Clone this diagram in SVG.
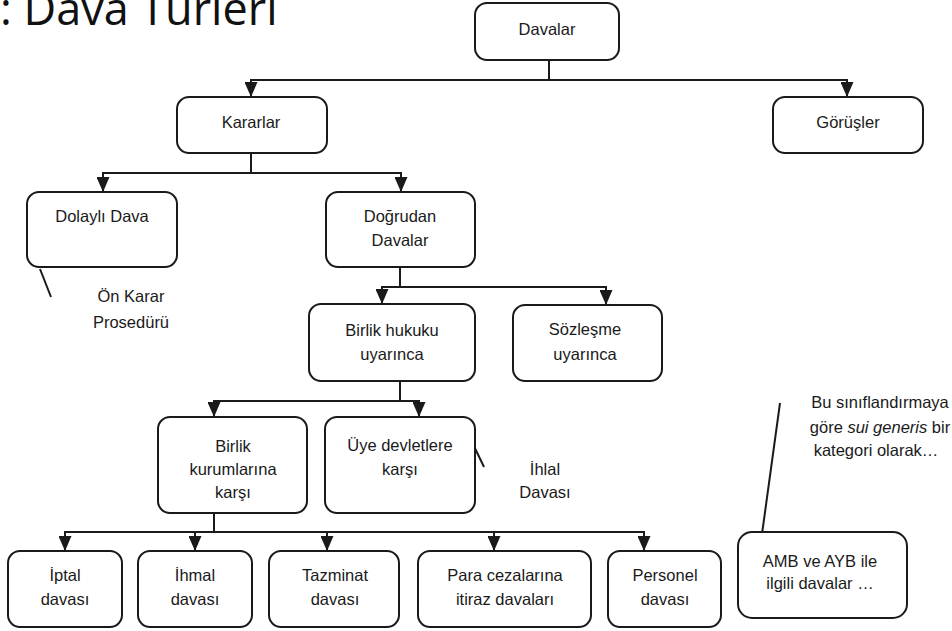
<svg xmlns="http://www.w3.org/2000/svg" width="952" height="631" viewBox="0 0 952 631">
<defs>
<style>
.box{fill:#fff;stroke:#1a1a1a;stroke-width:2}
.t{font-family:"Liberation Sans",Arial,sans-serif;font-size:16.5px;fill:#1a1a1a;text-anchor:middle}
.c{fill:none;stroke:#1a1a1a;stroke-width:2}
.title{font-family:"Open Sans","Noto Sans",sans-serif;font-size:45px;fill:#111}
</style>
<marker id="ah" viewBox="0 0 15 13" refX="15" refY="6.5" markerWidth="15" markerHeight="13" markerUnits="userSpaceOnUse" orient="auto">
<path d="M0,0 L15,6.5 L0,13 z" fill="#1a1a1a"/>
</marker>
</defs>
<rect width="952" height="631" fill="#fff"/>
<text class="title" x="0" y="25">: Dava Türleri</text>

<g id="connectors">
<path class="c" d="M549,60 V80 H251 V97" marker-end="url(#ah)"/>
<path class="c" d="M549,80 H847 V97" marker-end="url(#ah)"/>
<path class="c" d="M251,153 V173 H103 V192" marker-end="url(#ah)"/>
<path class="c" d="M251,173 H401 V192" marker-end="url(#ah)"/>
<path class="c" d="M400,267 V287 H382 V304" marker-end="url(#ah)"/>
<path class="c" d="M400,287 H606 V305" marker-end="url(#ah)"/>
<path class="c" d="M400,381 V401 H214 V417" marker-end="url(#ah)"/>
<path class="c" d="M400,401 H419 V417" marker-end="url(#ah)"/>
<path class="c" d="M214,513 V532 H65 V551" marker-end="url(#ah)"/>
<path class="c" d="M214,532 H195 V551" marker-end="url(#ah)"/>
<path class="c" d="M214,532 H327 V551" marker-end="url(#ah)"/>
<path class="c" d="M214,532 H494 V551" marker-end="url(#ah)"/>
<path class="c" d="M214,532 H644 V551" marker-end="url(#ah)"/>
<line class="c" x1="40" y1="269" x2="51" y2="297"/>
<line class="c" x1="472" y1="442" x2="484" y2="467"/>
<line class="c" x1="780" y1="403" x2="762" y2="534"/>
</g>

<g id="davalar"><rect class="box" x="475" y="3" width="144" height="57" rx="12"/><text class="t" x="547" y="35">Davalar</text></g>
<g id="kararlar"><rect class="box" x="177" y="97" width="150" height="56" rx="12"/><text class="t" x="251" y="128">Kararlar</text></g>
<g id="gorusler"><rect class="box" x="773" y="97" width="150" height="56" rx="12"/><text class="t" x="848" y="128">Görüşler</text></g>
<g id="dolayli"><rect class="box" x="27" y="192" width="150" height="75" rx="12"/><text class="t" x="102" y="222">Dolaylı Dava</text></g>
<g id="on-karar"><text class="t" x="131" y="302">Ön Karar</text><text class="t" x="131" y="328">Prosedürü</text></g>
<g id="dogrudan"><rect class="box" x="326" y="192" width="149" height="75" rx="12"/><text class="t" x="400" y="222">Doğrudan</text><text class="t" x="400" y="246">Davalar</text></g>
<g id="birlik-hukuku"><rect class="box" x="309" y="304" width="166" height="77" rx="12"/><text class="t" x="392" y="336">Birlik hukuku</text><text class="t" x="392" y="360">uyarınca</text></g>
<g id="sozlesme"><rect class="box" x="513" y="305" width="149" height="76" rx="12"/><text class="t" x="585" y="335">Sözleşme</text><text class="t" x="585" y="360">uyarınca</text></g>
<g id="birlik-kurumlari"><rect class="box" x="158" y="417" width="149" height="96" rx="12"/><text class="t" x="233" y="452">Birlik</text><text class="t" x="233" y="475">kurumlarına</text><text class="t" x="233" y="498">karşı</text></g>
<g id="uye-devletler"><rect class="box" x="325" y="417" width="150" height="96" rx="12"/><text class="t" x="400" y="451">Üye devletlere</text><text class="t" x="400" y="475">karşı</text></g>
<g id="ihlal"><text class="t" x="545" y="475">İhlal</text><text class="t" x="545" y="498">Davası</text></g>
<g id="iptal"><rect class="box" x="8" y="551" width="114" height="76" rx="12"/><text class="t" x="65" y="581">İptal</text><text class="t" x="65" y="605">davası</text></g>
<g id="ihmal"><rect class="box" x="138" y="551" width="114" height="76" rx="12"/><text class="t" x="195" y="581">İhmal</text><text class="t" x="195" y="605">davası</text></g>
<g id="tazminat"><rect class="box" x="269" y="551" width="130" height="76" rx="12"/><text class="t" x="335" y="581">Tazminat</text><text class="t" x="335" y="605">davası</text></g>
<g id="para"><rect class="box" x="418" y="551" width="173" height="76" rx="12"/><text class="t" x="505" y="581">Para cezalarına</text><text class="t" x="505" y="605">itiraz davaları</text></g>
<g id="personel"><rect class="box" x="608" y="551" width="113" height="76" rx="12"/><text class="t" x="665" y="581">Personel</text><text class="t" x="665" y="605">davası</text></g>
<g id="amb"><rect class="box" x="738" y="532" width="169" height="86" rx="14"/><text class="t" x="820" y="567">AMB ve AYB ile</text><text class="t" x="820" y="589">ilgili davalar …</text></g>
<g id="sui-generis"><text class="t" x="880" y="408">Bu sınıflandırmaya</text><text class="t" x="880" y="433">göre <tspan font-style="italic">sui generis</tspan> bir</text><text class="t" x="876" y="456">kategori olarak…</text></g>
</svg>
